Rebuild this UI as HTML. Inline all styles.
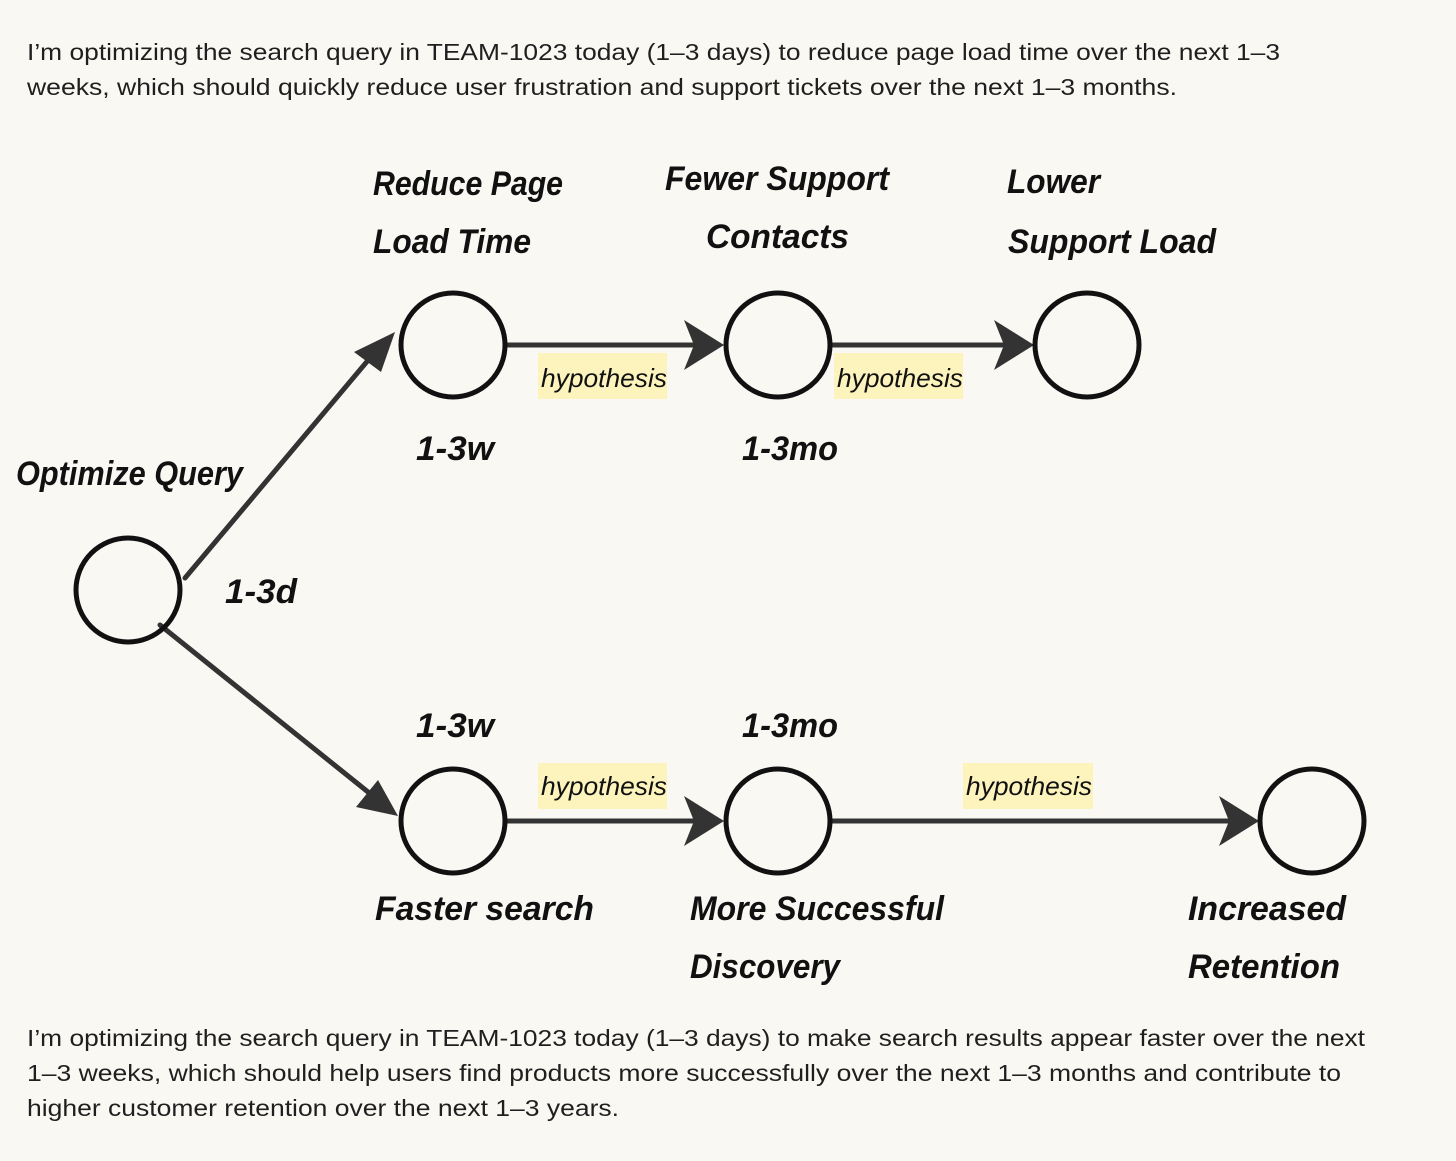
<!DOCTYPE html>
<html><head><meta charset="utf-8"><style>
html,body{margin:0;padding:0;background:#faf8f3;}
svg{display:block;}
.b{font-family:"Liberation Sans",sans-serif;font-size:23px;fill:#1f1f1f;}
.h{font-family:"Liberation Sans",sans-serif;font-style:italic;font-weight:bold;font-size:34px;fill:#111;}
.y{font-family:"Liberation Sans",sans-serif;font-style:italic;font-size:26px;fill:#111;}
</style></head><body>
<svg width="1456" height="1161" viewBox="0 0 1456 1161" xmlns="http://www.w3.org/2000/svg">
<rect width="1456" height="1161" fill="#faf8f3"/>
<text class="b" x="27" y="60" textLength="1253" lengthAdjust="spacingAndGlyphs">I’m optimizing the search query in TEAM-1023 today (1–3 days) to reduce page load time over the next 1–3</text>
<text class="b" x="27" y="95" textLength="1150" lengthAdjust="spacingAndGlyphs">weeks, which should quickly reduce user frustration and support tickets over the next 1–3 months.</text>
<text class="b" x="27" y="1046" textLength="1338" lengthAdjust="spacingAndGlyphs">I’m optimizing the search query in TEAM-1023 today (1–3 days) to make search results appear faster over the next</text>
<text class="b" x="27" y="1081" textLength="1314" lengthAdjust="spacingAndGlyphs">1–3 weeks, which should help users find products more successfully over the next 1–3 months and contribute to</text>
<text class="b" x="27" y="1116" textLength="592" lengthAdjust="spacingAndGlyphs">higher customer retention over the next 1–3 years.</text>

<g fill="#fcf3bd">
<rect x="538" y="353" width="129" height="46"/>
<rect x="834" y="353" width="129" height="46"/>
<rect x="538" y="763" width="129" height="46"/>
<rect x="963" y="763" width="130" height="46"/>
</g>
<g stroke="#333" stroke-width="5" fill="none" stroke-linecap="round">
<line x1="185" y1="578" x2="375" y2="352"/>
<line x1="160" y1="625" x2="378" y2="800"/>
<line x1="507" y1="345" x2="700" y2="345"/>
<line x1="832" y1="345" x2="1010" y2="345"/>
<line x1="507" y1="821" x2="700" y2="821"/>
<line x1="832" y1="821" x2="1235" y2="821"/>
</g>
<g fill="#333">
<polygon points="395,332 354,352 381,372"/>
<polygon points="398,816 356,807 378,780"/>
<polygon points="724,345 684,320 694,345 684,370"/>
<polygon points="1034,345 994,320 1004,345 994,370"/>
<polygon points="724,821 684,796 694,821 684,846"/>
<polygon points="1259,821 1219,796 1229,821 1219,846"/>
</g>
<g stroke="#111" stroke-width="5" fill="none">
<circle cx="128" cy="590" r="52"/>
<circle cx="453" cy="345" r="52"/>
<circle cx="778" cy="345" r="52"/>
<circle cx="1087" cy="345" r="52"/>
<circle cx="453" cy="821" r="52"/>
<circle cx="778" cy="821" r="52"/>
<circle cx="1312" cy="821" r="52"/>
</g>
<g class="h">
<text x="373" y="195" textLength="190" lengthAdjust="spacingAndGlyphs">Reduce Page</text>
<text x="373" y="253" textLength="158" lengthAdjust="spacingAndGlyphs">Load Time</text>
<text x="665" y="190" textLength="224" lengthAdjust="spacingAndGlyphs">Fewer Support</text>
<text x="706" y="248" textLength="143" lengthAdjust="spacingAndGlyphs">Contacts</text>
<text x="1007" y="193" textLength="93" lengthAdjust="spacingAndGlyphs">Lower</text>
<text x="1008" y="253" textLength="208" lengthAdjust="spacingAndGlyphs">Support Load</text>
<text x="16" y="485" textLength="227" lengthAdjust="spacingAndGlyphs">Optimize Query</text>
<text x="225" y="603" textLength="72" lengthAdjust="spacingAndGlyphs">1-3d</text>
<text x="416" y="460" textLength="78" lengthAdjust="spacingAndGlyphs">1-3w</text>
<text x="742" y="460" textLength="96" lengthAdjust="spacingAndGlyphs">1-3mo</text>
<text x="416" y="737" textLength="78" lengthAdjust="spacingAndGlyphs">1-3w</text>
<text x="742" y="737" textLength="96" lengthAdjust="spacingAndGlyphs">1-3mo</text>
<text x="375" y="920" textLength="219" lengthAdjust="spacingAndGlyphs">Faster search</text>
<text x="690" y="920" textLength="254" lengthAdjust="spacingAndGlyphs">More Successful</text>
<text x="690" y="978" textLength="150" lengthAdjust="spacingAndGlyphs">Discovery</text>
<text x="1188" y="920" textLength="158" lengthAdjust="spacingAndGlyphs">Increased</text>
<text x="1188" y="978" textLength="152" lengthAdjust="spacingAndGlyphs">Retention</text>
</g>
<g class="y">
<text x="541" y="387" textLength="126" lengthAdjust="spacingAndGlyphs">hypothesis</text>
<text x="837" y="387" textLength="126" lengthAdjust="spacingAndGlyphs">hypothesis</text>
<text x="541" y="795" textLength="126" lengthAdjust="spacingAndGlyphs">hypothesis</text>
<text x="966" y="795" textLength="126" lengthAdjust="spacingAndGlyphs">hypothesis</text>
</g>
</svg>
</body></html>
